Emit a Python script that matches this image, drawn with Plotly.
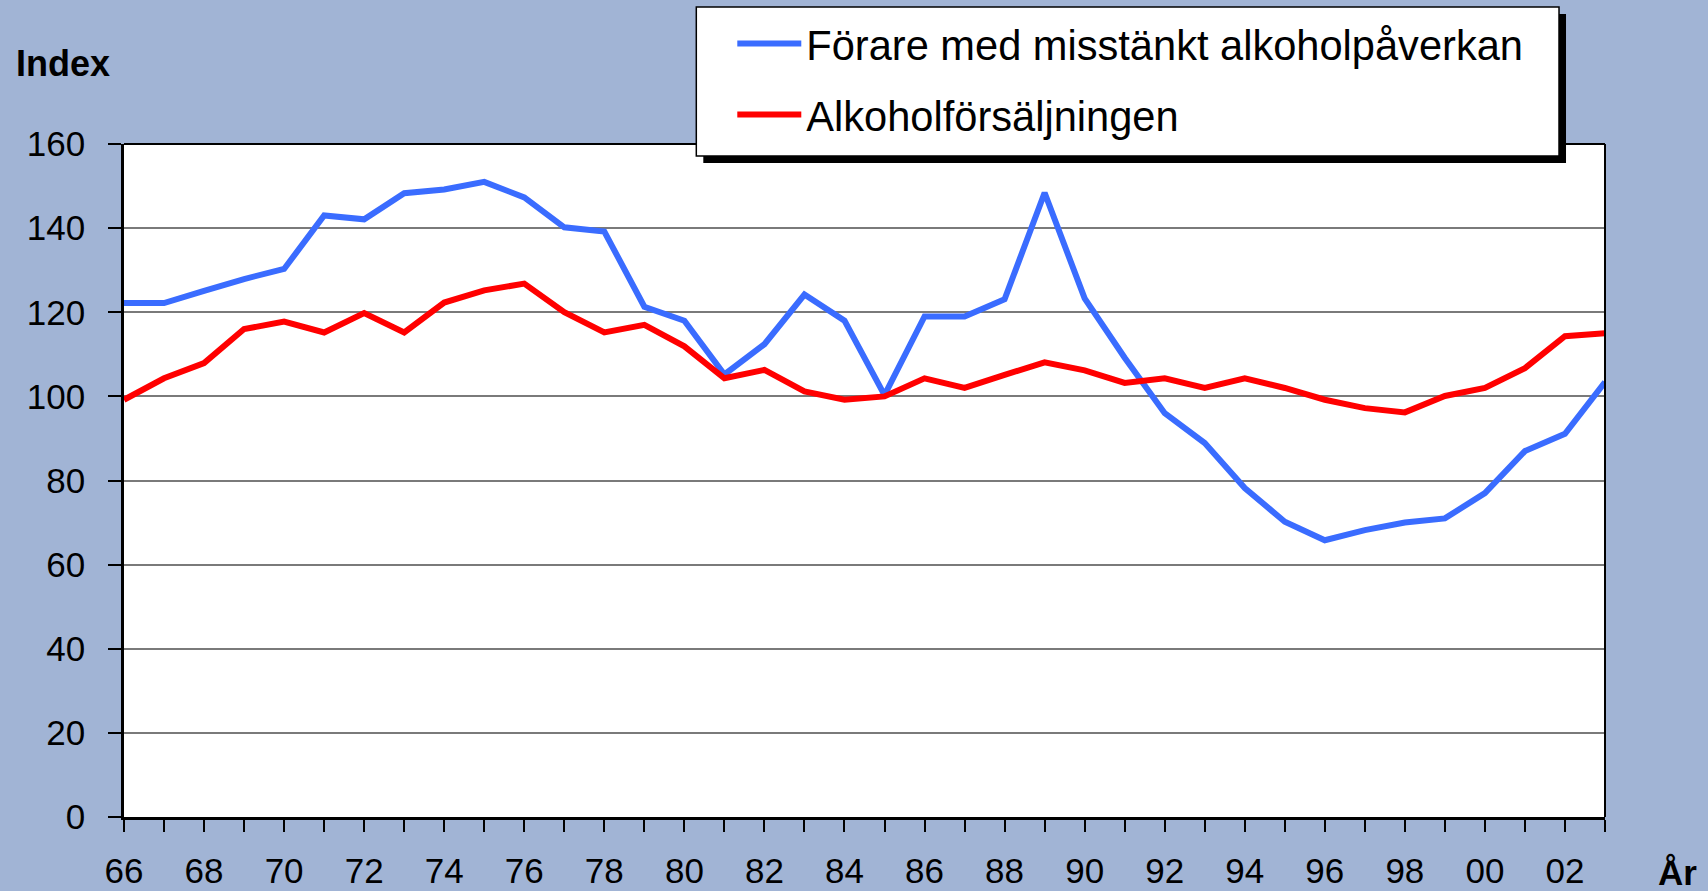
import plotly.graph_objects as go

years = [1966, 1967, 1968, 1969, 1970, 1971, 1972, 1973, 1974, 1975,
         1976, 1977, 1978, 1979, 1980, 1981, 1982, 1983, 1984, 1985,
         1986, 1987, 1988, 1989, 1990, 1991, 1992, 1993, 1994, 1995,
         1996, 1997, 1998, 1999, 2000, 2001, 2002, 2003]

forare = [122.2, 122.2, 125.1, 127.9, 130.3, 143.0, 142.1, 148.3, 149.2, 151.0,
          147.3, 140.2, 139.2, 121.3, 118.0, 105.2, 112.4, 124.2, 118.0, 100.3,
          119.0, 119.0, 123.1, 148.4, 123.3, 109.2, 96.0, 88.9, 78.2, 70.2,
          65.8, 68.2, 70.0, 71.0, 77.0, 87.0, 91.1, 103.4]

alkohol = [99.2, 104.3, 107.9, 116.0, 117.8, 115.2, 119.8, 115.2, 122.3, 125.2,
           126.8, 120.0, 115.2, 117.0, 111.9, 104.3, 106.3, 101.2, 99.2, 100.0,
           104.3, 102.0, 105.1, 108.1, 106.2, 103.2, 104.3, 102.0, 104.3, 102.0,
           99.2, 97.2, 96.2, 100.1, 102.0, 106.7, 114.3, 115.0]

tick_labels = ["66", "", "68", "", "70", "", "72", "", "74", "", "76", "", "78", "",
               "80", "", "82", "", "84", "", "86", "", "88", "", "90", "", "92", "",
               "94", "", "96", "", "98", "", "00", "", "02", ""]

y_ticks = [0, 20, 40, 60, 80, 100, 120, 140, 160]

W, H = 1708, 891
L, R, T, B = 123.5, 1605, 144, 817
BG = "#A1B4D5"
FONT = "Liberation Sans, Arial, sans-serif"


def xp(px):
    return (px - L) / (R - L)


def yp(py):
    return (B - py) / (B - T)


fig = go.Figure()
fig.add_trace(go.Scatter(x=years, y=forare, mode="lines",
                         name="Förare med misstänkt alkoholpåverkan",
                         line=dict(color="#3A6CFF", width=6),
                         legendgroup="a"))
fig.add_trace(go.Scatter(x=years, y=alkohol, mode="lines",
                         name="Alkoholförsäljningen",
                         line=dict(color="#FF0000", width=6),
                         legendgroup="b"))

shapes = [
    dict(type="line", xref="paper", yref="paper", x0=0, x1=1, y0=1, y1=1,
         line=dict(color="black", width=2), layer="above"),
    dict(type="line", xref="paper", yref="paper", x0=1, x1=1, y0=0, y1=1,
         line=dict(color="black", width=2), layer="above"),
    dict(type="rect", xref="paper", yref="paper",
         x0=xp(703), x1=xp(1566), y0=yp(14), y1=yp(163),
         fillcolor="black", line=dict(width=0), layer="above"),
    dict(type="rect", xref="paper", yref="paper",
         x0=xp(696), x1=xp(1559), y0=yp(7), y1=yp(156),
         fillcolor="white", line=dict(color="black", width=1.5), layer="above"),
]

annotations = [
    dict(text="<b>Index</b>", xref="paper", yref="paper", x=xp(13), y=yp(86),
         xanchor="left", yanchor="bottom", showarrow=False,
         font=dict(family=FONT, size=36, color="black")),
    dict(text="<b>År</b>", xref="paper", yref="paper", x=xp(1656), y=yp(894),
         xanchor="left", yanchor="bottom", showarrow=False,
         font=dict(family=FONT, size=35, color="black")),
]

fig.update_layout(
    width=W, height=H,
    paper_bgcolor=BG, plot_bgcolor="white",
    margin=dict(l=L, r=W - R, t=T, b=H - B, pad=0, autoexpand=False),
    font=dict(family=FONT, size=35, color="black"),
    showlegend=True,
    legend=dict(x=xp(732), y=yp(10), xanchor="left", yanchor="top",
                bgcolor="rgba(0,0,0,0)", borderwidth=0,
                font=dict(family=FONT, size=41.6, color="black"),
                itemwidth=64, tracegroupgap=14, traceorder="grouped"),
    shapes=shapes,
    annotations=annotations,
)

fig.update_xaxes(range=[1966, 2003], tickvals=years, ticktext=tick_labels,
                 ticks="outside", ticklen=12, tickwidth=2, tickcolor="black",
                 showline=True, linecolor="black", linewidth=3,
                 showgrid=False, zeroline=False, ticklabelstandoff=9,
                 tickfont=dict(family=FONT, size=35, color="black"),
                 automargin=False, fixedrange=True)
fig.update_yaxes(range=[0, 160], tickvals=y_ticks,
                 ticks="outside", ticklen=13, tickwidth=2, tickcolor="black",
                 showline=True, linecolor="black", linewidth=2.5,
                 showgrid=True, gridcolor="#7a7a7a", gridwidth=1.5,
                 zeroline=False, ticklabelstandoff=16,
                 tickfont=dict(family=FONT, size=35, color="black"),
                 automargin=False, fixedrange=True)

fig.write_html("out.html",
               config={"displayModeBar": False},
               post_script="document.body.style.margin='0';document.body.style.overflow='hidden';")
